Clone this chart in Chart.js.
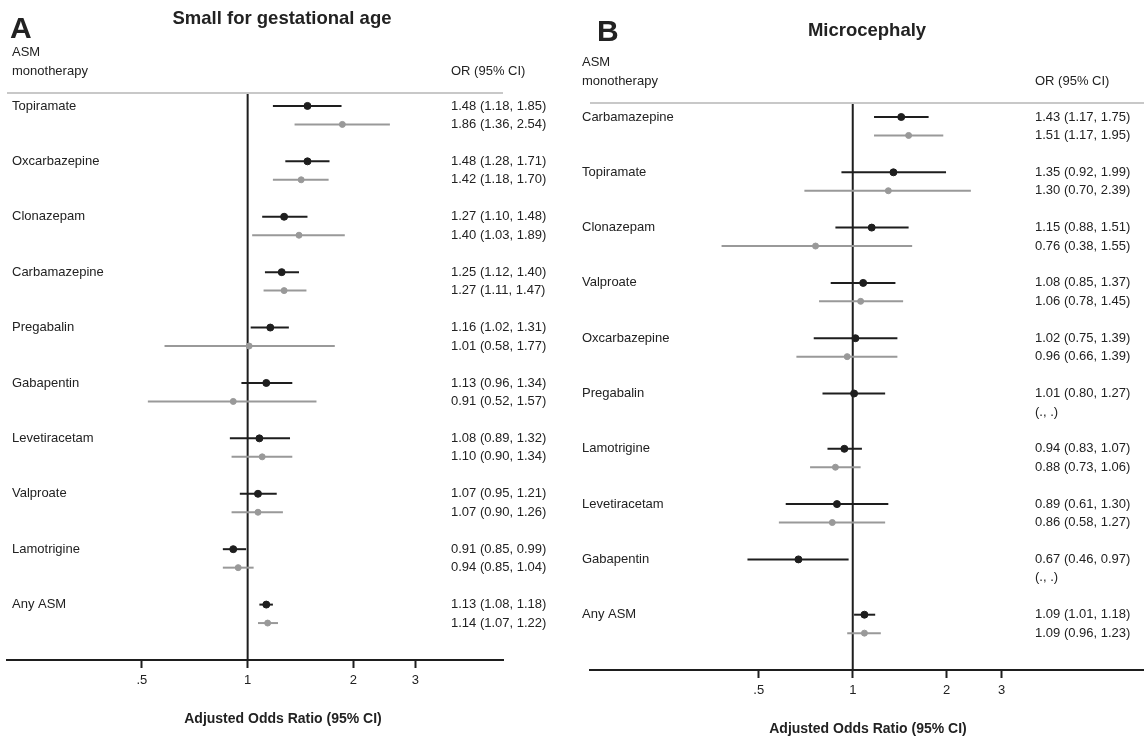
<!DOCTYPE html>
<html>
<head>
<meta charset="utf-8">
<script src="https://cdn.jsdelivr.net/npm/chart.js@4.4.1/dist/chart.umd.min.js"></script>
<style>
  body { margin: 0; background: #fff; overflow: hidden; }
  #wrap { position: relative; width: 1144px; height: 738px; }
  .panel { position: absolute; top: 0; }
</style>
</head>
<body>
<div id="wrap">
  <div class="panel" style="left:0;width:575px;height:738px"><canvas id="chartA"></canvas></div>
  <div class="panel" style="left:575px;width:569px;height:738px"><canvas id="chartB"></canvas></div>
</div>
<script>
// Panel A: small for gestational age
const drugsA = ['Topiramate', 'Oxcarbazepine', 'Clonazepam', 'Carbamazepine', 'Pregabalin',
    'Gabapentin', 'Levetiracetam', 'Valproate', 'Lamotrigine', 'Any ASM'];
const orA1 = [1.48, 1.48, 1.27, 1.25, 1.16, 1.13, 1.08, 1.07, 0.91, 1.13];
const loA1 = [1.18, 1.28, 1.10, 1.12, 1.02, 0.96, 0.89, 0.95, 0.85, 1.08];
const hiA1 = [1.85, 1.71, 1.48, 1.40, 1.31, 1.34, 1.32, 1.21, 0.99, 1.18];
const orA2 = [1.86, 1.42, 1.40, 1.27, 1.01, 0.91, 1.10, 1.07, 0.94, 1.14];
const loA2 = [1.36, 1.18, 1.03, 1.11, 0.58, 0.52, 0.90, 0.90, 0.85, 1.07];
const hiA2 = [2.54, 1.70, 1.89, 1.47, 1.77, 1.57, 1.34, 1.26, 1.04, 1.22];

// Panel B: microcephaly (null = not estimated)
const drugsB = ['Carbamazepine', 'Topiramate', 'Clonazepam', 'Valproate', 'Oxcarbazepine',
    'Pregabalin', 'Lamotrigine', 'Levetiracetam', 'Gabapentin', 'Any ASM'];
const orB1 = [1.43, 1.35, 1.15, 1.08, 1.02, 1.01, 0.94, 0.89, 0.67, 1.09];
const loB1 = [1.17, 0.92, 0.88, 0.85, 0.75, 0.80, 0.83, 0.61, 0.46, 1.01];
const hiB1 = [1.75, 1.99, 1.51, 1.37, 1.39, 1.27, 1.07, 1.30, 0.97, 1.18];
const orB2 = [1.51, 1.30, 0.76, 1.06, 0.96, null, 0.88, 0.86, null, 1.09];
const loB2 = [1.17, 0.70, 0.38, 0.78, 0.66, null, 0.73, 0.58, null, 0.96];
const hiB2 = [1.95, 2.39, 1.55, 1.45, 1.39, null, 1.06, 1.27, null, 1.23];

const tickValues = [0.5, 1, 2, 3];
const tickLabels = ['.5', '1', '2', '3'];

const DARK = '#1e1e1e';
const GRAY = '#999999';
const TEXT = '#222222';
const FONT = '"Liberation Sans", Arial, Helvetica, sans-serif';

function fmt(o, l, h) {
    if (o === null) return '(., .)';
    return o.toFixed(2) + ' (' + l.toFixed(2) + ', ' + h.toFixed(2) + ')';
}

function buildDatasets(or1, lo1, hi1, or2, lo2, hi2, yMin, yMax) {
    const sets = [];
    // reference line at OR = 1
    sets.push({
        type: 'line', data: [{ x: 1, y: yMin }, { x: 1, y: yMax }],
        borderColor: DARK, borderWidth: 2, pointRadius: 0, order: 5
    });
    for (let i = 0; i < or1.length; i++) {
        sets.push({
            type: 'line', data: [{ x: lo1[i], y: i * 3 }, { x: hi1[i], y: i * 3 }],
            borderColor: DARK, borderWidth: 2, pointRadius: 0, order: 3
        });
        if (or2[i] !== null) {
            sets.push({
                type: 'line', data: [{ x: lo2[i], y: i * 3 + 1 }, { x: hi2[i], y: i * 3 + 1 }],
                borderColor: GRAY, borderWidth: 2, pointRadius: 0, order: 4
            });
        }
    }
    sets.push({
        type: 'scatter', data: or1.map((v, i) => ({ x: v, y: i * 3 })),
        backgroundColor: DARK, borderColor: DARK, pointRadius: 3.5, order: 1
    });
    sets.push({
        type: 'scatter',
        data: or2.map((v, i) => (v === null ? null : { x: v, y: i * 3 + 1 })).filter(p => p),
        backgroundColor: GRAY, borderColor: GRAY, pointRadius: 3, order: 2
    });
    return sets;
}

function textPlugin(p) {
    return {
        id: 'forestText',
        afterDraw(chart) {
            const ctx = chart.ctx;
            const area = chart.chartArea;
            const ys = chart.scales.y;
            ctx.save();
            // header rule
            ctx.strokeStyle = '#c8c8c8';
            ctx.lineWidth = 2;
            ctx.beginPath();
            ctx.moveTo(area.left, area.top);
            ctx.lineTo(area.right, area.top);
            ctx.stroke();

            ctx.fillStyle = TEXT;
            ctx.textBaseline = 'alphabetic';
            ctx.textAlign = 'left';
            ctx.font = 'bold 30px ' + FONT;
            ctx.fillText(p.letter, p.letterX, p.letterY);
            ctx.textAlign = 'center';
            ctx.font = 'bold 18.5px ' + FONT;
            ctx.fillText(p.title, p.titleX, p.titleY);
            ctx.font = 'bold 14px ' + FONT;
            ctx.fillText('Adjusted Odds Ratio (95% CI)', p.titleX + 1, p.xTitleY);

            ctx.textAlign = 'left';
            ctx.font = '13px ' + FONT;
            ctx.fillText('ASM', p.labelX, p.headY - 19);
            ctx.fillText('monotherapy', p.labelX, p.headY);
            ctx.fillText('OR (95% CI)', p.valueX, p.headY);

            ctx.textBaseline = 'middle';
            for (let i = 0; i < p.drugs.length; i++) {
                const y1 = ys.getPixelForValue(i * 3);
                const y2 = ys.getPixelForValue(i * 3 + 1);
                ctx.fillText(p.drugs[i], p.labelX, y1);
                ctx.fillText(fmt(p.or1[i], p.lo1[i], p.hi1[i]), p.valueX, y1);
                ctx.fillText(fmt(p.or2[i], p.lo2[i], p.hi2[i]), p.valueX, y2);
            }
            ctx.restore();
        }
    };
}

function makeChart(id, p) {
    return new Chart(document.getElementById(id), {
        type: 'scatter',
        data: { datasets: buildDatasets(p.or1, p.lo1, p.hi1, p.or2, p.lo2, p.hi2, p.yMin, p.yMax) },
        options: {
            responsive: true,
            maintainAspectRatio: false,
            animation: false,
            layout: { autoPadding: false, padding: { left: p.padL, right: p.padR, top: p.padT, bottom: 0 } },
            plugins: { legend: { display: false }, tooltip: { enabled: false } },
            scales: {
                x: {
                    type: 'logarithmic',
                    min: p.xMin, max: p.xMax,
                    afterBuildTicks(scale) { scale.ticks = tickValues.map(v => ({ value: v })); },
                    afterFit(scale) { scale.height = p.axisH; },
                    ticks: {
                        autoSkip: false, maxRotation: 0, padding: 5,
                        color: TEXT, font: { family: FONT, size: 13 },
                        callback: (v) => tickLabels[tickValues.indexOf(v)]
                    },
                    grid: {
                        display: true, drawOnChartArea: false, drawTicks: true,
                        tickLength: 8, tickWidth: 2, tickColor: DARK
                    },
                    border: { display: true, color: DARK, width: 2 }
                },
                y: {
                    type: 'linear', min: p.yMin, max: p.yMax, reverse: true, display: false
                }
            }
        },
        plugins: [textPlugin(p)]
    });
}

makeChart('chartA', {
    drugs: drugsA, or1: orA1, lo1: loA1, hi1: hiA1, or2: orA2, lo2: loA2, hi2: hiA2,
    letter: 'A', letterX: 10, letterY: 38, title: 'Small for gestational age', titleX: 282, titleY: 24,
    xTitleY: 723, labelX: 12, valueX: 451, headY: 75,
    padL: 7, padR: 72, padT: 93, axisH: 78,
    xMin: 0.2066, xMax: 5.33, yMin: -0.7, yMax: 30
});

makeChart('chartB', {
    drugs: drugsB, or1: orB1, lo1: loB1, hi1: hiB1, or2: orB2, lo2: loB2, hi2: hiB2,
    letter: 'B', letterX: 22, letterY: 41, title: 'Microcephaly', titleX: 292, titleY: 36,
    xTitleY: 733, labelX: 7, valueX: 460, headY: 85,
    padL: 15, padR: 0, padT: 103, axisH: 68,
    xMin: 0.144, xMax: 8.57, yMin: -0.76, yMax: 30
});
</script>
</body>
</html>
